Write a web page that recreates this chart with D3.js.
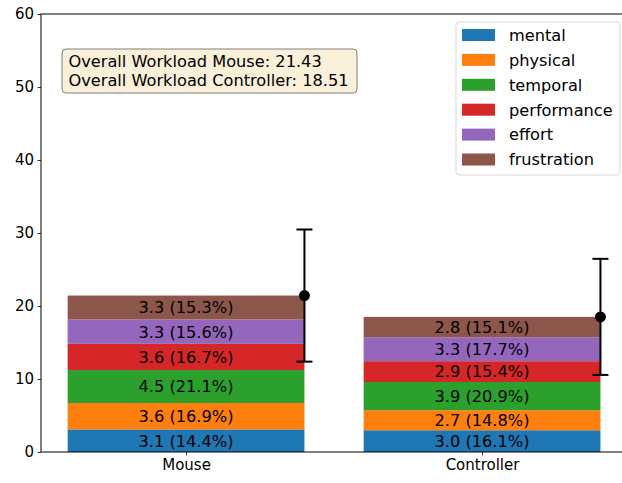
<!DOCTYPE html>
<html>
<head>
<meta charset="utf-8">
<script src="https://cdn.jsdelivr.net/npm/d3@7"></script>
<style>
  body { margin: 0; background: #fff; }
  text { font-family: "DejaVu Sans", sans-serif; }
</style>
</head>
<body>
<svg width="622" height="483"></svg>
<script>
  // data
  var groups = ["Mouse", "Controller"];
  var dimensions = ["mental", "physical", "temporal", "performance", "effort", "frustration"];
  var mouseScores = [3.09, 3.62, 4.52, 3.58, 3.34, 3.28];
  var controllerScores = [2.98, 2.74, 3.87, 2.85, 3.28, 2.79];
  var overall = [21.43, 18.51];
  var errors = [9.05, 7.95];
  var yTicks = [0, 10, 20, 30, 40, 50, 60];

  var colors = ["#1f77b4", "#ff7f0e", "#2ca02c", "#d62728", "#9467bd", "#8c564b"];

  var svg = d3.select("svg"),
    plotLeft = 41,
    plotTop = 14,
    plotBottom = 452,
    labelSize = "16.2px",
    tickSize = "15px";

  var x = d3.scaleLinear().domain([-0.49, 1.49]).range([plotLeft, plotLeft + 1.98 * 296]);
  var y = d3.scaleLinear().domain([0, 60]).range([plotBottom, plotTop]);
  var barWidth = 0.8;

  var scores = [mouseScores, controllerScores];

  // stacked segments
  var segments = [];
  scores.forEach(function (s, gi) {
    var total = d3.sum(s);
    var base = 0;
    s.forEach(function (v, di) {
      segments.push({ g: gi, d: di, y0: base, y1: base + v, v: v, pct: (v / total) * 100 });
      base += v;
    });
  });

  var bars = svg.append("g").attr("class", "bars");
  bars
    .selectAll("rect")
    .data(segments)
    .enter()
    .append("rect")
    .attr("x", function (d) { return x(d.g - barWidth / 2); })
    .attr("width", function (d) { return x(barWidth) - x(0); })
    .attr("y", function (d) { return y(d.y1); })
    .attr("height", function (d) { return y(d.y0) - y(d.y1); })
    .attr("fill", function (d) { return colors[d.d]; });

  bars
    .selectAll("text")
    .data(segments)
    .enter()
    .append("text")
    .attr("x", function (d) { return x(d.g); })
    .attr("y", function (d) { return y((d.y0 + d.y1) / 2); })
    .attr("dy", "0.36em")
    .attr("text-anchor", "middle")
    .style("font-size", labelSize)
    .style("fill", "#000")
    .text(function (d) { return d.v.toFixed(1) + " (" + d.pct.toFixed(1) + "%)"; });

  // error bars at the right edge of each bar
  var err = svg.append("g").attr("class", "errors");
  overall.forEach(function (m, i) {
    var ex = x(i + barWidth / 2);
    err.append("line")
      .attr("x1", ex).attr("x2", ex)
      .attr("y1", y(m - errors[i])).attr("y2", y(m + errors[i]))
      .style("stroke", "#000").style("stroke-width", 2);
    [m - errors[i], m + errors[i]].forEach(function (v) {
      err.append("line")
        .attr("x1", ex - 8).attr("x2", ex + 8)
        .attr("y1", y(v)).attr("y2", y(v))
        .style("stroke", "#000").style("stroke-width", 2);
    });
    err.append("circle")
      .attr("cx", ex).attr("cy", y(m)).attr("r", 5.5)
      .style("fill", "#000");
  });

  // axes
  var yAxis = svg.append("g")
    .attr("transform", "translate(" + plotLeft + ",0)")
    .call(d3.axisLeft(y).tickValues(yTicks).tickSize(3.5).tickPadding(3.5));
  var xAxis = svg.append("g")
    .attr("transform", "translate(0," + plotBottom + ")")
    .call(d3.axisBottom(x).tickValues([0, 1]).tickSize(3.5).tickPadding(3.5)
      .tickFormat(function (d) { return groups[d]; }));
  [yAxis, xAxis].forEach(function (a) {
    a.select(".domain").remove();
    a.selectAll("text").style("font-size", tickSize).style("fill", "#000")
      .style("font-family", "DejaVu Sans, sans-serif");
    a.selectAll("line").style("stroke", "#000").style("stroke-width", 0.8);
  });

  // spines
  svg.append("rect")
    .attr("x", plotLeft).attr("y", plotTop)
    .attr("width", x(1.49) - plotLeft).attr("height", plotBottom - plotTop)
    .style("fill", "none").style("stroke", "#000").style("stroke-width", 1);

  // summary box
  var box = svg.append("g").attr("transform", "translate(62,49)");
  box.append("rect")
    .attr("width", 295).attr("height", 44).attr("rx", 4)
    .style("fill", "#faefd9").style("stroke", "#7f7f7f").style("stroke-width", 1);
  groups.forEach(function (g, i) {
    box.append("text")
      .attr("x", 6.5).attr("y", 18.3 + i * 18.7)
      .style("font-size", labelSize)
      .text("Overall Workload " + g + ": " + overall[i].toFixed(2));
  });

  // legend
  var legend = svg.append("g").attr("transform", "translate(456,22)");
  legend.append("rect")
    .attr("width", 164).attr("height", 153).attr("rx", 3)
    .style("fill", "rgba(255,255,255,0.8)").style("stroke", "#d9d9d9").style("stroke-width", 1);
  var item = legend.selectAll("g.item")
    .data(dimensions)
    .enter()
    .append("g")
    .attr("class", "item")
    .attr("transform", function (d, i) { return "translate(0," + (13 + i * 24.9) + ")"; });
  item.append("rect")
    .attr("x", 6).attr("y", -6).attr("width", 33).attr("height", 12)
    .attr("fill", function (d, i) { return colors[i]; });
  item.append("text")
    .attr("x", 53).attr("dy", "0.36em")
    .style("font-size", labelSize)
    .text(function (d) { return d; });
</script>
</body>
</html>
